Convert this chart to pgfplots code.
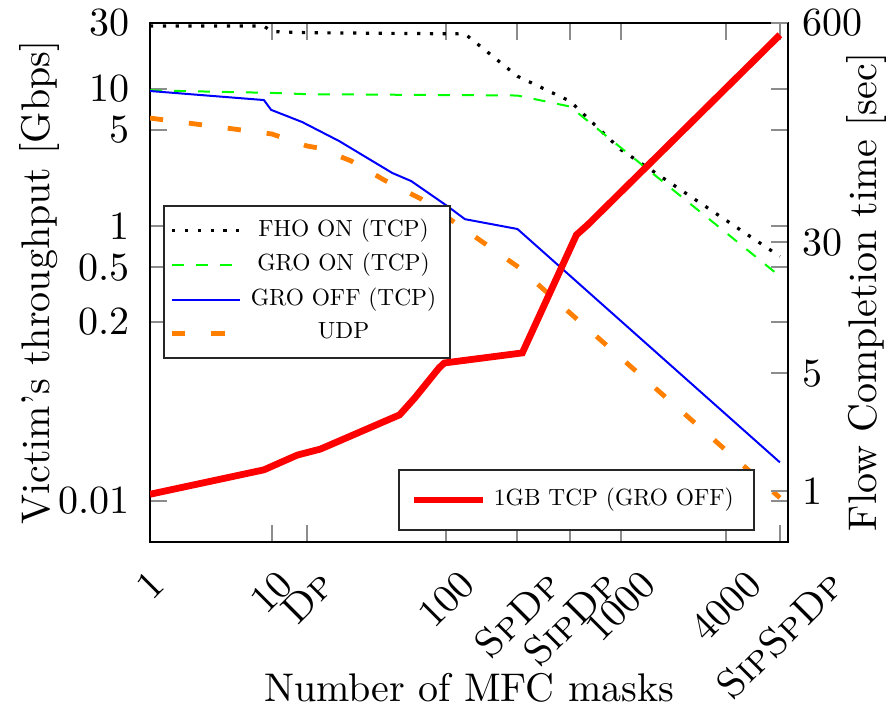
\documentclass[border=0pt]{standalone}
\usepackage{graphicx}
\usepackage{pgfplots}
\pgfplotsset{compat=1.18}
\newcommand{\legtxt}[1]{\scalebox{0.585}{\fontsize{10}{12}\selectfont #1}}
\begin{document}
\begin{tikzpicture}
\begin{axis}[name=ax,
  width=159.5pt, height=129.75pt, scale only axis,
  xmode=log, ymode=log, xmin=2, xmax=9120,
  ymin=0.005, ymax=30,
  tick style={black!45, line width=0.5pt},
  minor tick length=0pt,
  axis line style={line width=0.5pt},
  xtick={2,10,16,100,256,512,1000,4000,8192},
  xticklabels={\rotatebox{45}{1},\rotatebox{45}{10},\rotatebox{45}{\textsc{Dp}},\rotatebox{45}{100},\rotatebox{45}{\textsc{SpDp}},\rotatebox{45}{\textsc{SipDp}},\rotatebox{45}{1000},\rotatebox{45}{4000},\rotatebox{45}{\textsc{SipSpDp}}},
  xticklabel style={anchor=north, yshift=-3pt},
  ytick={0.01,0.2,0.5,1,5,10,30},
  yticklabels={0.01,0.2,0.5,1,5,10,30},
  yticklabel style={xshift=-1.5pt},
  xlabel={Number of MFC masks},
  xlabel style={at={(axis description cs:0.5,-0.2254)}, anchor=north},
  ylabel={Victim’s throughput [Gbps]},
  ylabel style={at={(axis description cs:-0.2273,0.5)}, anchor=north},
  legend cell align=center,
  legend style={at={(0.02,0.65)}, anchor=north west, font=\fontsize{6}{7.2}\selectfont, draw=black!85, line width=0.5pt, row sep=-1.2pt, inner xsep=1.5pt, inner ysep=1.2pt},
]
\addplot[black, line width=0.8pt, dash pattern=on 0.8pt off 2.4pt] coordinates {
(2,28.5) (9,28.5) (10,26) (16,25.5) (128,25) (256,12.3) (512,8.1) (1000,3.6) (8192,0.6)};
\addlegendentry{\legtxt{FHO ON (TCP)}}
\addplot[green, dashed, line width=0.5pt] coordinates {
(2,9.7) (10,9.3) (16,9.1) (256,8.9) (512,7.4) (8192,0.43)};
\addlegendentry{\legtxt{GRO ON (TCP)}}
\addplot[blue, line width=0.5pt] coordinates {
(2,9.6) (9,8.25) (9.9,7.0) (14.9,5.71) (24.3,4.15) (49,2.43) (63,2.12) (101,1.40) (128,1.12) (256,0.95) (8192,0.019)};
\addlegendentry{\legtxt{GRO OFF (TCP)}}
\addplot[orange, line width=1.2pt, dash pattern=on 3.3pt off 6.5pt] coordinates {
(2,6.1) (10,4.67) (15.9,3.82) (18.6,3.69) (28.5,2.97) (45.2,2.12) (71.8,1.57) (170,0.73) (263,0.495) (558,0.211) (8192,0.0105)};
\addlegendentry{\legtxt{UDP}}
\end{axis}
\begin{axis}[
  width=159.5pt, height=129.75pt, scale only axis,
  xmode=log, ymode=log, xmin=2, xmax=9120,
  ymin=0.5, ymax=600,
  tick style={black!45, line width=0.5pt},
  minor tick length=0pt,
  axis line style={line width=0.5pt},
  axis y line*=right, axis x line=none,
  ytick={1,5,30,600},
  yticklabels={1,5,30,600},
  ylabel={Flow Completion time [sec]},
  ylabel style={at={(axis description cs:1.069,0.482)}, anchor=north},
  legend cell align=center,
  legend style={at={(0.948,0.021)}, anchor=south east, inner ysep=2.6pt, inner xsep=3pt, font=\fontsize{6}{7.2}\selectfont, draw=black!85, line width=0.5pt},
]
\addplot[red, line width=1.7pt] coordinates {
(2,0.96) (9,1.34) (14,1.64) (19,1.78) (54,2.84) (66,3.58) (91,5.4) (97.5,5.77) (273,6.62) (558,33.2) (646,38) (8192,510)};
\addlegendentry{\legtxt{1GB TCP (GRO OFF)}}
\end{axis}
\pgfresetboundingbox
\path[use as bounding box] ([shift={(-37.5pt,-41.75pt)}]ax.south west) rectangle ([shift={(184.5pt,135.5pt)}]ax.south west);
\end{tikzpicture}
\end{document}
